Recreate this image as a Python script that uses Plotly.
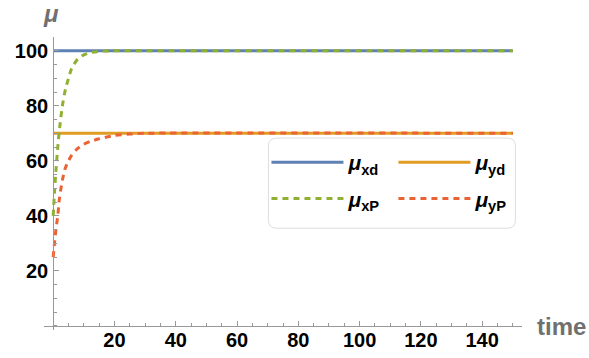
import plotly.graph_objects as go

# ---- data ----
t_const = [0, 150]
mu_xd = [100, 100]
mu_yd = [70, 70]

t_xP = [0, 0.5, 1, 1.5, 2, 3, 4, 5, 6, 8, 10, 12, 15, 20, 30, 150]
mu_xP = [40, 50, 58, 65, 71, 80, 86, 90, 93.5, 97, 98.5, 99.3, 99.8, 100, 100, 100]

t_yP = [0, 0.5, 1, 1.5, 2, 3, 4, 5, 6, 8, 10, 12, 15, 20, 25, 30, 150]
mu_yP = [25, 31, 36, 40, 46, 53, 57.5, 60, 62, 64.5, 66, 67, 68, 69.2, 69.7, 70, 70]

x_ticks = [20, 40, 60, 80, 100, 120, 140]
y_ticks = [20, 40, 60, 80, 100]

BLUE, ORANGE, GREEN, RED = "#5E81B5", "#E19C24", "#8FB032", "#EB6235"
AXC = "#999999"
FONT = "Liberation Sans"

W, H = 589, 358
ML, MR, MT, MB = 43.5, 67.4, 37, 28.3
XR = [-3, 153]
YR = [-1.5, 105]

fig = go.Figure()
fig.add_trace(go.Scatter(x=t_const, y=mu_xd, mode="lines", name="<b><i>μ</i><sub>xd</sub></b>",
                         line=dict(color=BLUE, width=3), legend="legend", legendgroup="a"))
fig.add_trace(go.Scatter(x=t_const, y=mu_yd, mode="lines", name="<b><i>μ</i><sub>yd</sub></b>",
                         line=dict(color=ORANGE, width=3), legend="legend2", legendgroup="c"))
fig.add_trace(go.Scatter(x=t_xP, y=mu_xP, mode="lines", name="<b><i>μ</i><sub>xP</sub></b>",
                         line=dict(color=GREEN, width=3, dash="6px,5px", shape="spline", smoothing=0.6),
                         legend="legend", legendgroup="b"))
fig.add_trace(go.Scatter(x=t_yP, y=mu_yP, mode="lines", name="<b><i>μ</i><sub>yP</sub></b>",
                         line=dict(color=RED, width=3, dash="6px,5px", shape="spline", smoothing=0.6),
                         legend="legend2", legendgroup="d"))

pw = W - ML - MR
ph = H - MT - MB
def px2x(p):
    return (p - ML) / pw
def px2y(p):
    return 1 - (p - MT) / ph

# rounded legend frame (path in paper coordinates)
L, R, T, B = 268, 515, 138, 228
r = 8
pts = []
path = (f"M {px2x(L + r)},{px2y(T)} L {px2x(R - r)},{px2y(T)} "
        f"Q {px2x(R)},{px2y(T)} {px2x(R)},{px2y(T + r)} "
        f"L {px2x(R)},{px2y(B - r)} Q {px2x(R)},{px2y(B)} {px2x(R - r)},{px2y(B)} "
        f"L {px2x(L + r)},{px2y(B)} Q {px2x(L)},{px2y(B)} {px2x(L)},{px2y(B - r)} "
        f"L {px2x(L)},{px2y(T + r)} Q {px2x(L)},{px2y(T)} {px2x(L + r)},{px2y(T)} Z")
fig.add_shape(type="path", xref="paper", yref="paper", path=path,
              line=dict(color="#DDDDDD", width=1), fillcolor="white", layer="below")

leg_common = dict(bgcolor="rgba(0,0,0,0)", borderwidth=0, orientation="v",
                  font=dict(family=FONT, size=21, color="black"),
                  tracegroupgap=6, itemwidth=72, xanchor="left", yanchor="top")
fig.update_layout(
    legend=dict(x=px2x(266), y=px2y(142), **leg_common),
    legend2=dict(x=px2x(393), y=px2y(142), **leg_common),
)

axis_common = dict(showgrid=False, zeroline=False, showline=True, linecolor=AXC, linewidth=1,
                   ticks="inside", ticklen=5, tickcolor=AXC, tickwidth=1, automargin=False,
                   tickfont=dict(family=FONT, size=20, color="black", weight="bold"),
                   minor=dict(ticks="inside", ticklen=3, tickcolor=AXC, dtick=5, tick0=0))

fig.update_xaxes(range=XR, tickvals=x_ticks, anchor="free",
                 position=(0 - YR[0]) / (YR[1] - YR[0]), ticklabelstandoff=-4, **axis_common)
fig.update_yaxes(range=YR, tickvals=y_ticks, anchor="free",
                 position=(0 - XR[0]) / (XR[1] - XR[0]), ticklabelstandoff=1, **axis_common)

fig.add_annotation(text="<b>time</b>", xref="paper", yref="paper", x=px2x(535), y=px2y(326),
                   xanchor="left", yanchor="middle", showarrow=False,
                   font=dict(family=FONT, size=24, color="#707070"))
fig.add_annotation(text="<b><i>μ</i></b>", xref="paper", yref="paper", x=px2x(51), y=px2y(14),
                   xanchor="center", yanchor="middle", showarrow=False,
                   font=dict(family=FONT, size=24, color="#707070"))

fig.update_layout(width=W, height=H, margin=dict(l=ML, r=MR, t=MT, b=MB, autoexpand=False),
                  plot_bgcolor="white", paper_bgcolor="white", showlegend=True)

fig.write_html("out.html")
